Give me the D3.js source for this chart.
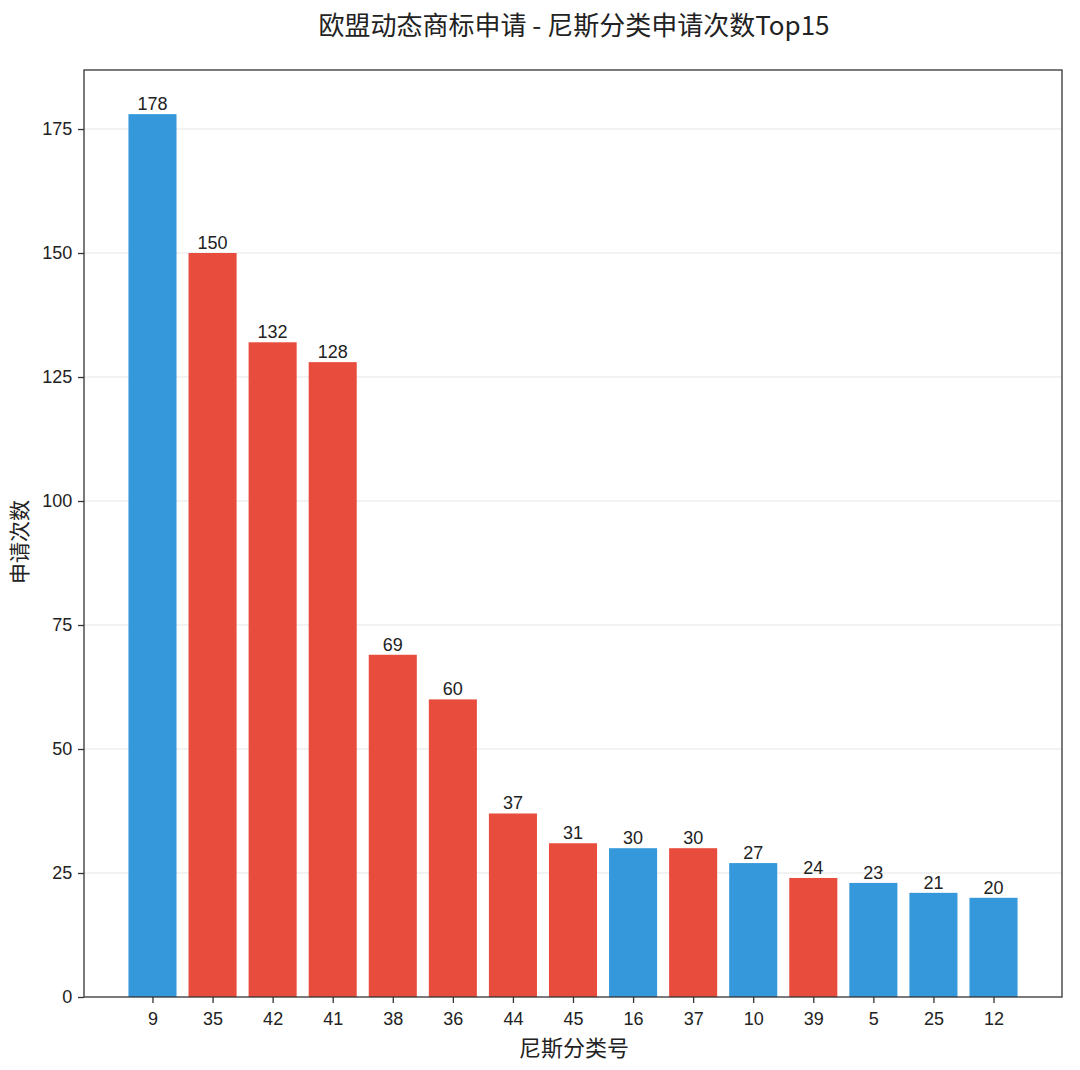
<!DOCTYPE html>
<html>
<head>
<meta charset="utf-8">
<script src="https://d3js.org/d3.v7.min.js"></script>
<style>
  body { margin: 0; background: #fff; }
  text { font-family: "Liberation Sans", "Noto Sans CJK SC", sans-serif; }
</style>
</head>
<body>
<div id="chart"></div>
<script>
// data
var classes = ["9", "35", "42", "41", "38", "36", "44", "45", "16", "37", "10", "39", "5", "25", "12"];
var counts = [178, 150, 132, 128, 69, 60, 37, 31, 30, 30, 27, 24, 23, 21, 20];
var barColors = ["blue", "red", "red", "red", "red", "red", "red", "red", "blue", "red", "blue", "red", "blue", "blue", "blue"];
var yTicks = [0, 25, 50, 75, 100, 125, 150, 175];

var palette = {blue: "#3498db", red: "#e74c3c"};

var W = 1080, H = 1070;
var margin = {top: 70, right: 18, bottom: 73, left: 84},
    width = W - margin.left - margin.right,
    height = H - margin.top - margin.bottom;

var svg = d3.select("#chart").append("svg")
            .attr("width", W)
            .attr("height", H);

// title
svg.append("text")
   .attr("x", 574)
   .attr("y", 35)
   .attr("text-anchor", "middle")
   .style("font-family", "'Noto Sans CJK SC', sans-serif")
   .style("font-size", "26px")
   .attr("fill", "#222")
   .text("欧盟动态商标申请 - 尼斯分类申请次数Top15");

var g = svg.append("g")
           .attr("transform", "translate(" + margin.left + "," + margin.top + ")");

// x in bar index units, matplotlib-like margins
var barW = 0.8;
var x = d3.scaleLinear().domain([-1.14, classes.length - 1 + 1.14]).range([0, width]);
var y = d3.scaleLinear().domain([0, 186.9]).range([height, 0]);

// grid
g.selectAll(".grid")
 .data(yTicks.filter(function(d) { return d > 0; }))
 .enter().append("line")
 .attr("x1", 0).attr("x2", width)
 .attr("y1", function(d) { return y(d); })
 .attr("y2", function(d) { return y(d); })
 .attr("stroke", "#e6e6e6")
 .attr("stroke-width", 1.2);

// bars
g.selectAll("rect.bar")
 .data(counts)
 .enter().append("rect")
 .attr("class", "bar")
 .attr("x", function(d, i) { return x(i - barW / 2); })
 .attr("width", x(barW) - x(0))
 .attr("y", function(d) { return y(d); })
 .attr("height", function(d) { return height - y(d); })
 .attr("fill", function(d, i) { return palette[barColors[i]]; });

// value labels
g.selectAll("text.val")
 .data(counts)
 .enter().append("text")
 .attr("class", "val")
 .attr("x", function(d, i) { return x(i); })
 .attr("y", function(d) { return y(d) - 4; })
 .attr("text-anchor", "middle")
 .style("font-size", "18px")
 .attr("fill", "#222")
 .text(function(d) { return d; });

// axes
var xAxis = d3.axisBottom(x)
              .tickValues(d3.range(classes.length))
              .tickFormat(function(d) { return classes[d]; })
              .tickSize(6).tickSizeOuter(0);
var yAxis = d3.axisLeft(y).tickValues(yTicks).tickSize(6).tickSizeOuter(0);

var gx = g.append("g").attr("transform", "translate(0," + height + ")").call(xAxis);
var gy = g.append("g").call(yAxis);
[gx, gy].forEach(function(a) {
  a.select(".domain").remove();
  a.selectAll(".tick line").attr("stroke", "#333").attr("stroke-width", 1.3);
  a.selectAll(".tick text").style("font-size", "18px").attr("fill", "#222");
});
gx.selectAll(".tick text").attr("dy", "1.05em");
gy.selectAll(".tick text").attr("dx", "-0.15em");

// frame
g.append("rect")
 .attr("x", 0).attr("y", 0)
 .attr("width", width).attr("height", height)
 .attr("fill", "none")
 .attr("stroke", "#333")
 .attr("stroke-width", 1.3);

// axis labels
svg.append("text")
   .attr("x", 574)
   .attr("y", 1056)
   .attr("text-anchor", "middle")
   .style("font-family", "'Noto Sans CJK SC', sans-serif")
   .style("font-size", "22px")
   .attr("fill", "#222")
   .text("尼斯分类号");

svg.append("text")
   .attr("transform", "translate(27," + 542 + ") rotate(-90)")
   .attr("text-anchor", "middle")
   .style("font-family", "'Noto Sans CJK SC', sans-serif")
   .style("font-size", "21px")
   .attr("fill", "#222")
   .text("申请次数");
</script>
</body>
</html>
